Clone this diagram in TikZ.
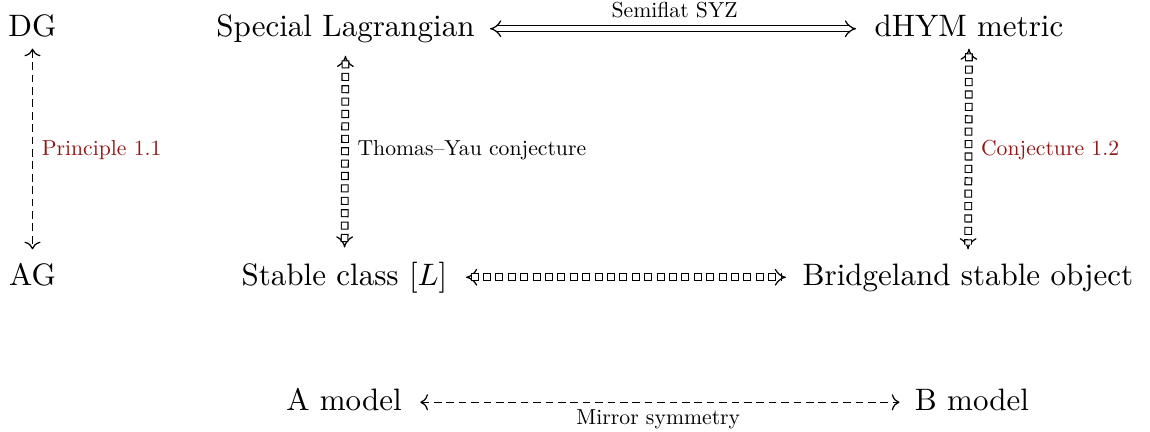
\documentclass[tikz,border=0pt]{standalone}
\usetikzlibrary{arrows.meta}
\definecolor{refred}{RGB}{145,22,22}
% labels: the text face shrunk to 70%
\newcommand\lbltext[1]{\scalebox{0.7}{#1}}
\begin{document}
\begin{tikzpicture}[x=0.32258pt, y=-0.32258pt,
  obj/.style={inner sep=0pt, text height=7pt, text depth=2pt, anchor=base},
  lbl/.style={inner sep=0pt},
  dline/.style={double, double distance=1.5pt, {Implies}-{Implies}},
  % tips of a double arrow, without its shaft
  dtips/.style={double, double distance=1.5pt, {Implies}-{Implies}, dash pattern=on 0pt off 2000pt},
  % shaft of a dashed double arrow: a row of small outlined boxes
  boxdash/.style={line width=2.5pt, dash pattern=on 2.6pt off 1.4pt,
    postaction={draw=white, line width=1.8pt, dash pattern=on 1.9pt off 2.1pt, dash phase=3.65pt}},
  sline/.style={{To}-{To}},
  dashes/.style={dash pattern=on 2.5pt off 1.5pt},
]
\useasboundingbox (0,0) rectangle (1150,431);

% objects
\node[obj] (dg)   at (32.5,36.5) {DG};
\node[obj] (sl)   at (345.5,36.5) {Special Lagrangian};
\node[obj] (dhym) at (969,36.5) {dHYM metric};
\node[obj] (ag)   at (32.5,285) {AG};
\node[obj] (sc)   at (344.5,285) {Stable class $[L]$};
\node[obj] (br)   at (968,285) {Bridgeland stable object};
\node[obj] (am)   at (344,410) {A model};
\node[obj] (bm)   at (972,410) {B model};

% horizontal connections
\draw[dline, shorten <=4.8pt, shorten >=5.8pt] (sl.east) -- (dhym.west)
  node[midway, above, lbl, yshift=3.3pt] {\lbltext{Semiflat SYZ}};
\draw[dtips, shorten <=5.8pt, shorten >=5.2pt] (sc.east) -- (br.west);
\draw[boxdash, shorten <=7.3pt, shorten >=6.7pt] (sc.east) -- (br.west);
\draw[sline, dashes, shorten <=5.8pt, shorten >=4.8pt] (am.east) -- (bm.west)
  node[midway, below, lbl, yshift=-2.2pt] {\lbltext{Mirror symmetry}};

% vertical connections
\draw[sline, dashes, shorten <=1.7pt, shorten >=4.3pt] (dg.south) -- (ag.north)
  node[midway, right, lbl, xshift=2.8pt, yshift=1pt, text=refred] {\lbltext{Principle 1.1}};
\draw[dtips, shorten <=4pt, shorten >=4.9pt] (sl.south) -- (sc.north);
\draw[boxdash, shorten <=5.5pt, shorten >=6.4pt] (sl.south) -- (sc.north)
  node[midway, right, lbl, xshift=2.8pt, yshift=1pt] {\lbltext{Thomas--Yau conjecture}};
\draw[dtips, shorten <=1.7pt, shorten >=4.3pt] (dhym.south) -- (br.north);
\draw[boxdash, shorten <=3.2pt, shorten >=5.8pt] (dhym.south) -- (br.north)
  node[midway, right, lbl, xshift=2.8pt, yshift=1pt, text=refred] {\lbltext{Conjecture 1.2}};
\end{tikzpicture}
\end{document}
